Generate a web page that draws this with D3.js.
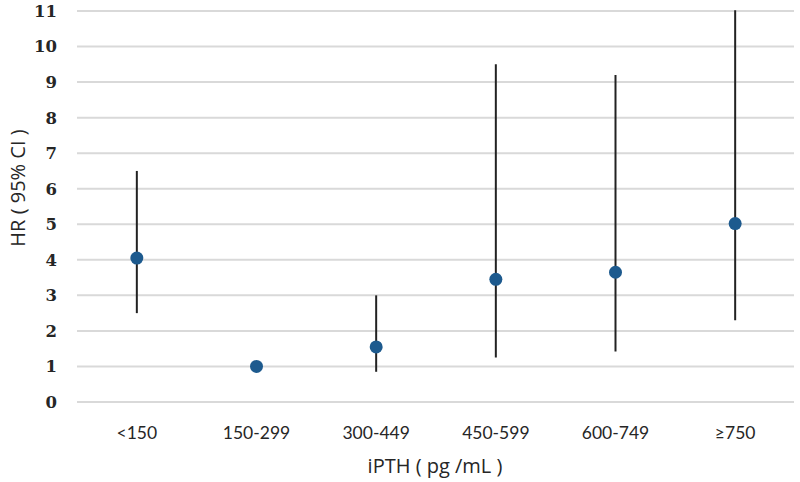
<!DOCTYPE html>
<html><head><meta charset="utf-8">
<script src="https://cdn.jsdelivr.net/npm/d3@7"></script>
<style>body{margin:0;background:#fff;}svg{display:block;}</style>
</head><body>
<svg id="c" width="800" height="482"></svg>
<script>
const categories = ["<150","150-299","300-449","450-599","600-749","≥750"];
const hr    = [4.05, 1.0, 1.55, 3.45, 3.65, 5.02];
const lower = [2.5, null, 0.85, 1.25, 1.42, 2.3];
const upper = [6.5, null, 3.0, 9.5, 9.2, 11.02];
const yTicks = [0,1,2,3,4,5,6,7,8,9,10,11];

const svg = d3.select("#c");
const m = {l:77, r:5, t:10, b:80};
const W = 800, H = 482;
const x = d3.scaleBand().domain(categories).range([m.l, W-m.r]);
const y = d3.scaleLinear().domain([0,11]).range([402, 11]);

// grid
svg.append("g").selectAll("line").data(yTicks).join("line")
  .attr("x1", m.l).attr("x2", 794)
  .attr("y1", d=>y(d)).attr("y2", d=>y(d))
  .attr("stroke", "#d9d9d9").attr("stroke-width", 2);

// y labels
svg.append("g").selectAll("text").data(yTicks).join("text")
  .attr("x", 57).attr("y", d=>y(d)).attr("dy","0.36em")
  .attr("text-anchor","end")
  .attr("font-family","'DejaVu Serif', serif")
  .attr("font-size",16.5).attr("font-weight","bold").attr("fill","#262626")
  .text(d=>d);

// x labels
svg.append("g").selectAll("text").data(categories).join("text")
  .attr("x", d=>x(d)+x.bandwidth()/2).attr("y", 433).attr("dy","0.35em")
  .attr("text-anchor","middle")
  .attr("font-family","Lato, 'Open Sans', sans-serif")
  .attr("font-size",17.5).attr("fill","#262626")
  .text(d=>d);

// axis titles
svg.append("text").attr("x", 435).attr("y", 466).attr("dy","0.35em")
  .attr("text-anchor","middle")
  .attr("font-family","'Open Sans', Lato, sans-serif")
  .attr("font-size",20).attr("fill","#262626").text("iPTH ( pg /mL )");
svg.append("text").attr("transform","translate(18,188) rotate(-90)")
  .attr("dy","0.35em").attr("text-anchor","middle")
  .attr("font-family","'Open Sans', Lato, sans-serif")
  .attr("font-size",20).attr("fill","#262626").text("HR ( 95% CI )");

const data = categories.map((c,i)=>({c, v:hr[i], lo:lower[i], hi:upper[i]}));
svg.append("g").selectAll("line").data(data.filter(d=>d.lo!=null)).join("line")
  .attr("x1", d=>x(d.c)+x.bandwidth()/2).attr("x2", d=>x(d.c)+x.bandwidth()/2)
  .attr("y1", d=>y(d.lo)).attr("y2", d=>y(d.hi))
  .attr("stroke","#222").attr("stroke-width",2);
svg.append("g").selectAll("circle").data(data).join("circle")
  .attr("cx", d=>x(d.c)+x.bandwidth()/2).attr("cy", d=>y(d.v))
  .attr("r", 6.5).attr("fill","#1d5a8e");
</script>
</body></html>
